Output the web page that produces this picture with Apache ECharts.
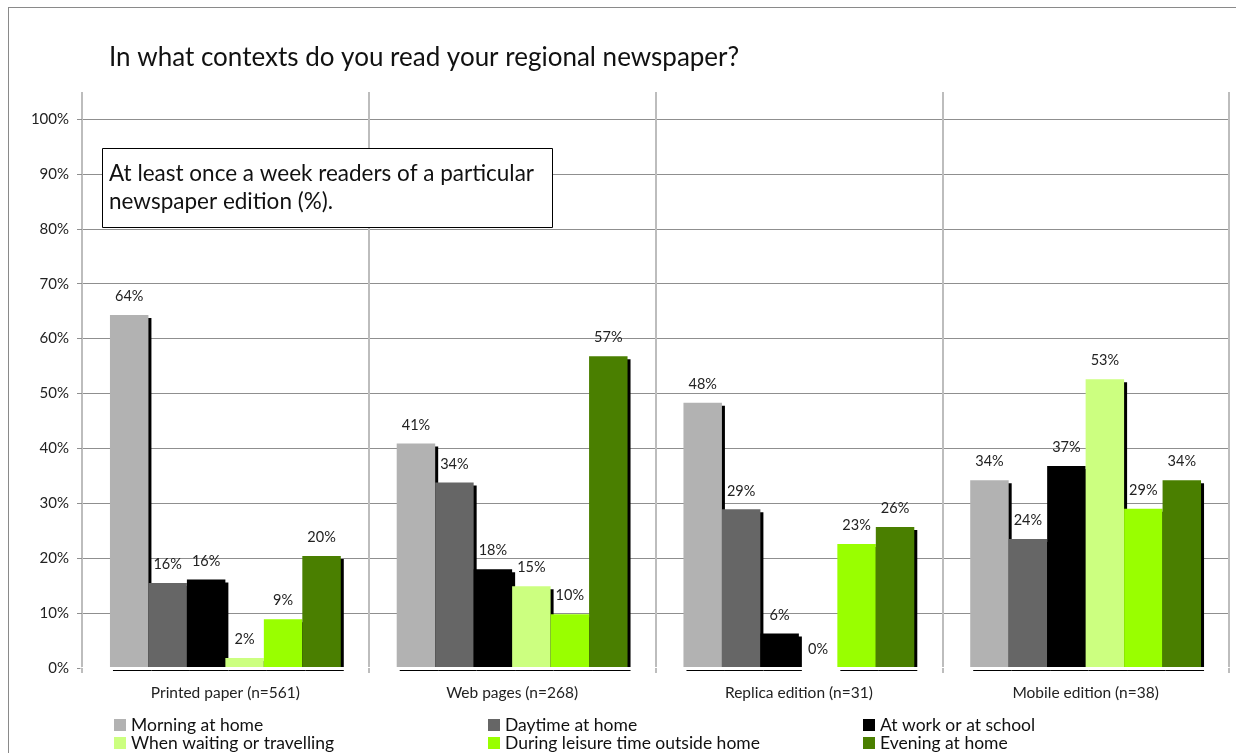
<!DOCTYPE html>
<html>
<head>
<meta charset="utf-8">
<title>Reading contexts of regional newspapers</title>
<script src="https://cdn.jsdelivr.net/npm/echarts@6/dist/echarts.min.js"></script>
<style>
  html, body { margin: 0; padding: 0; background: #fff; overflow: hidden; }
  #frame { position: absolute; left: 8px; top: 7px; width: 1300px; height: 800px; border: 1px solid #8a8a8a; }
  #chart { position: absolute; left: 0; top: 0; width: 1236px; height: 753px; }
</style>
</head>
<body>
<div id="frame"></div>
<div id="chart"></div>
<script>
// Newspaper editions (category axis)
const categories = [
  'Printed paper (n=561)',
  'Web pages (n=268)',
  'Replica edition (n=31)',
  'Mobile edition (n=38)'
];

// Reading contexts, in series order
const seriesNames = [
  'Morning at home',
  'Daytime at home',
  'At work or at school',
  'When waiting or travelling',
  'During leisure time outside home',
  'Evening at home'
];

// Share of weekly readers per edition (%)
const morningAtHome      = [64.3, 40.9, 48.3, 34.2];
const daytimeAtHome      = [15.5, 33.8, 28.9, 23.5];
const atWorkOrSchool     = [16.1, 18.0,  6.3, 36.8];
const waitingTravelling  = [ 1.8, 14.9,  0.0, 52.6];
const leisureOutside     = [ 8.9,  9.8, 22.6, 29.0];
const eveningAtHome      = [20.4, 56.8, 25.7, 34.2];

const seriesValues = [
  morningAtHome, daytimeAtHome, atWorkOrSchool,
  waitingTravelling, leisureOutside, eveningAtHome
];

const seriesColors = ['#b2b2b2', '#666666', '#000000', '#ccff80', '#99ff00', '#4a7f00'];

const FONT = 'Lato, "Open Sans", sans-serif';

const chart = echarts.init(document.getElementById('chart'), null, { renderer: 'canvas' });

const barSeries = seriesNames.map((name, i) => ({
  name: name,
  type: 'bar',
  xAxisIndex: 0,
  yAxisIndex: 0,
  data: seriesValues[i],
  barGap: '0%',
  barCategoryGap: '19.5%',
  itemStyle: {
    color: seriesColors[i],
    shadowColor: '#000',
    shadowOffsetX: 3,
    shadowOffsetY: 3,
    shadowBlur: 0
  },
  label: {
    show: true,
    position: 'top',
    distance: 11,
    fontFamily: FONT,
    fontSize: 14.5,
    color: '#222',
    formatter: p => Math.round(p.value) + '%'
  },
  emphasis: { disabled: true },
  silent: true,
  animation: false
}));

const legendBase = {
  orient: 'vertical',
  top: 716,
  height: 60,
  itemWidth: 12,
  itemHeight: 12,
  itemGap: 0,
  icon: 'rect',
  selectedMode: false,
  padding: 0,
  textStyle: { fontFamily: FONT, fontSize: 17.5, color: '#111', lineHeight: 18 }
};

chart.setOption({
  animation: false,
  textStyle: { fontFamily: FONT },
  title: [
    {
      text: 'In what contexts do you read your regional newspaper?',
      left: 104,
      top: 40,
      textStyle: { fontFamily: FONT, fontSize: 26, fontWeight: 'normal', color: '#111' }
    },
    {
      text: 'At least once a week readers of a particular\nnewspaper edition (%).',
      left: 102,
      top: 148,
      padding: [12, 19, 12, 7],
      borderColor: '#000',
      borderWidth: 1,
      backgroundColor: '#fff',
      textStyle: { fontFamily: FONT, fontSize: 22.5, fontWeight: 'normal', color: '#111', lineHeight: 28 }
    }
  ],
  legend: [
    Object.assign({}, legendBase, { left: 114, data: [seriesNames[0], seriesNames[3]] }),
    Object.assign({}, legendBase, { left: 488, data: [seriesNames[1], seriesNames[4]] }),
    Object.assign({}, legendBase, { left: 863, data: [seriesNames[2], seriesNames[5]] })
  ],
  grid: [
    // plot area
    { left: 82, right: 7, top: 119, bottom: 85, containLabel: false },
    // edition separators, running past the plot area
    { left: 82, right: 7, top: 92, bottom: 80, containLabel: false }
  ],
  xAxis: [
    {
      type: 'category',
      gridIndex: 0,
      data: categories,
      boundaryGap: true,
      z: 10,
      offset: 2,
      // white band under the zero line keeps the bar shadows inside the plot
      axisLine: { show: true, lineStyle: { color: '#ffffff', width: 3 } },
      axisTick: { show: true, length: 3, lineStyle: { color: '#bdbdbd', width: 2 } },
      splitLine: { show: false },
      axisLabel: { fontFamily: FONT, fontSize: 15.5, color: '#222', margin: 15 }
    },
    {
      type: 'category',
      gridIndex: 1,
      data: categories,
      boundaryGap: true,
      axisLine: { show: false },
      axisTick: { show: false },
      axisLabel: { show: false },
      splitLine: { show: true, lineStyle: { color: '#bdbdbd', width: 2 } }
    }
  ],
  yAxis: [
    {
      type: 'value',
      gridIndex: 0,
      min: 0,
      max: 100,
      interval: 10,
      axisLine: { show: false },
      axisTick: { show: true, length: 5, lineStyle: { color: '#8f8f8f' } },
      splitLine: { show: true, lineStyle: { color: '#8f8f8f', width: 1 } },
      axisLabel: { fontFamily: FONT, fontSize: 15, color: '#222', margin: 13, formatter: '{value}%' }
    },
    {
      type: 'value',
      gridIndex: 1,
      min: 0,
      max: 100,
      show: false
    }
  ],
  series: barSeries
});
</script>
</body>
</html>
